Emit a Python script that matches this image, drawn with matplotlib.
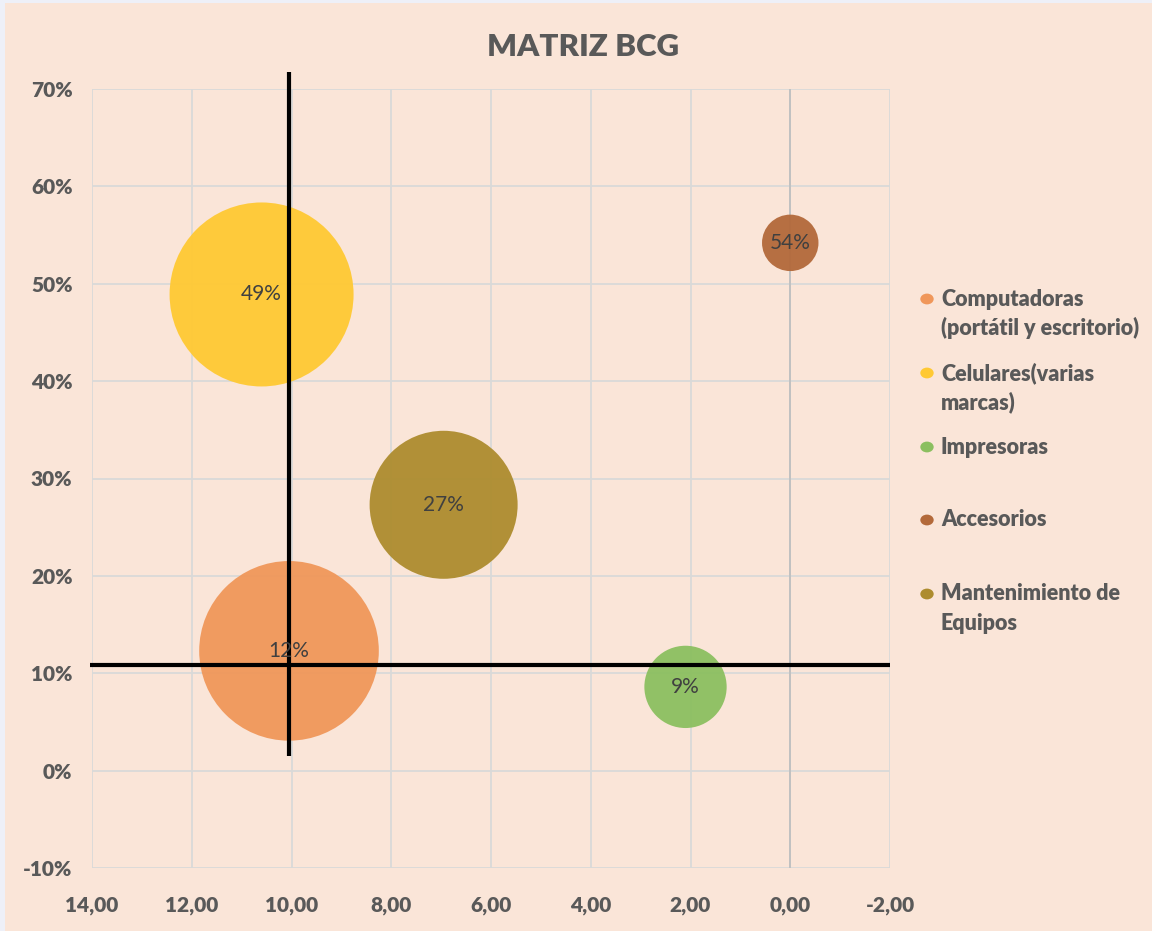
import matplotlib
matplotlib.use("Agg")
import matplotlib.pyplot as plt
import matplotlib.patches as mpatches
import numpy as np

plt.rcParams['font.family'] = ['Lato', 'DejaVu Sans']

# Data
categories = ["Computadoras\n(portátil y escritorio)", "Celulares(varias\nmarcas)",
              "Impresoras", "Accesorios", "Mantenimiento de\nEquipos"]
x_share = [10.05, 10.6, 2.1, 0.0, 6.95]          # relative market share
y_growth = [0.123, 0.489, 0.086, 0.542, 0.273]   # market growth
bubble_size = [81, 85, 17, 8, 55]                # bubble size (area)
labels = ["12%", "49%", "9%", "54%", "27%"]
colors = ["#F0975A", "#FFC933", "#8BBF60", "#B3693A", "#AD8C2E"]

x_ticks = [14, 12, 10, 8, 6, 4, 2, 0, -2]
x_ticklabels = ["14,00", "12,00", "10,00", "8,00", "6,00", "4,00", "2,00", "0,00", "-2,00"]
y_ticks = [-0.1, 0, 0.1, 0.2, 0.3, 0.4, 0.5, 0.6, 0.7]
y_ticklabels = ["-10%", "0%", "10%", "20%", "30%", "40%", "50%", "60%", "70%"]

divider_x = 10.05
divider_y = 0.108

bg = "#FAE5D8"
txt = "#595959"
W = "heavy"

fig = plt.figure(figsize=(11.52, 9.31), dpi=100, facecolor=bg)
# outer frame (left / top edge)
fig.patches.append(mpatches.Rectangle((0, 0), 5/1152, 1, transform=fig.transFigure,
                                      facecolor="#EEF0F8", edgecolor='none'))
fig.patches.append(mpatches.Rectangle((0, 1-3/931), 1, 3/931, transform=fig.transFigure,
                                      facecolor="#EEF0F8", edgecolor='none'))

ax = fig.add_axes([92/1152, 1-868/931, (890-92)/1152, (868-89)/931])
ax.set_facecolor(bg)

ax.set_xlim(14, -2)
ax.set_ylim(-0.1, 0.7)
ax.set_xticks(x_ticks)
ax.set_xticklabels(x_ticklabels)
ax.set_yticks(y_ticks)
ax.set_yticklabels(y_ticklabels)
ax.tick_params(length=0, labelsize=15, labelcolor=txt)
ax.tick_params(axis='x', pad=20)
ax.tick_params(axis='y', pad=22 - 8)
for lab in ax.get_xticklabels() + ax.get_yticklabels():
    lab.set_fontweight(W)
ax.grid(True, color="#D9D9D9", linewidth=1.3)
ax.set_axisbelow(True)
for s in ax.spines.values():
    s.set_visible(False)
ax.axvline(0, color="#BFBFBF", linewidth=1.3, zorder=1)

# bubbles: area proportional to size; largest radius ~92 px
max_r_px = 92.0
pts_per_px = 72 / 100
for xi, yi, si, c, lab in zip(x_share, y_growth, bubble_size, colors, labels):
    r_px = max_r_px * np.sqrt(si / max(bubble_size))
    d_pt = 2 * r_px * pts_per_px
    ax.scatter([xi], [yi], s=d_pt**2, color=c, alpha=0.95, edgecolors='none', zorder=3)
    ax.text(xi, yi, lab, ha='center', va='center', fontsize=15, color="#404040", zorder=6)

# quadrant divider lines
ax.plot([divider_x, divider_x], [0.015, 0.717], color='black', linewidth=3, zorder=5, clip_on=False,
        solid_capstyle='butt')
ax.plot([14.05, -2.0], [divider_y, divider_y], color='black', linewidth=3, zorder=5, clip_on=False,
        solid_capstyle='butt')

# title
fig.text(583/1152, 1-47/931, "MATRIZ BCG", ha='center', va='center', fontsize=22.5,
         fontweight=W, color=txt)

# legend (manual)
leg_y = [299, 373, 447, 520, 594]
line_h = 29
for cat, c, yy in zip(categories, colors, leg_y):
    fig.patches.append(mpatches.Circle((927/1152, 1-yy/931), 0.0058,
                        transform=fig.transFigure, facecolor=c, edgecolor='none'))
    for k, part in enumerate(cat.split("\n")):
        fig.text(941/1152, 1-(yy + k*line_h)/931, part, ha='left', va='center',
                 fontsize=15.5, fontweight=W, color=txt)

fig.savefig("out.png", dpi=100, facecolor=bg)
